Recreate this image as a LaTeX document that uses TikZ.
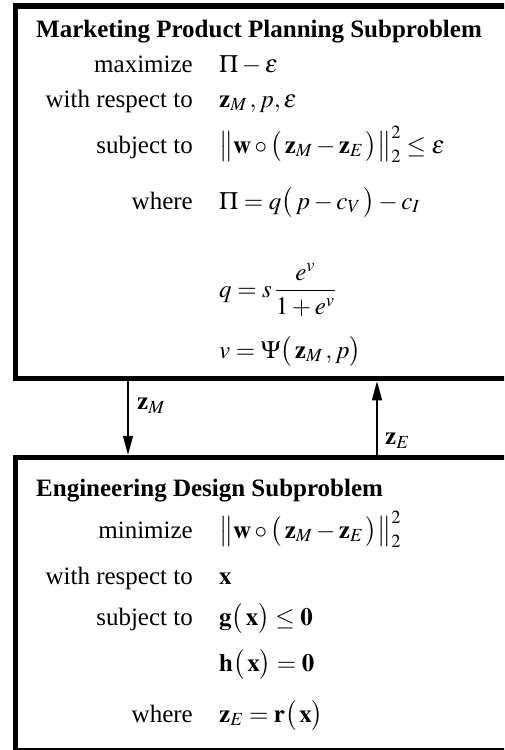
\documentclass[tikz,border=0pt]{standalone}
\usepackage{mathptmx}
\usepackage[no-math]{fontspec}
\setmainfont{Liberation Serif}
\usetikzlibrary{arrows.meta}
\tikzset{
  panel/.style={draw, line width=5.5pt, outer sep=0pt, inner sep=0pt, anchor=north west},
  lbl/.style={anchor=base east, inner sep=0pt, font=\fontsize{25}{30}\selectfont},
  mth/.style={anchor=base west, inner sep=0pt, font=\fontsize{25}{30}\selectfont},
  ttl/.style={anchor=base west, inner sep=0pt, font=\fontsize{25}{30}\selectfont\bfseries},
  flow/.style={line width=1.5pt, -{Triangle[length=19pt,width=10pt]}, shorten >=2.75pt, shorten <=2.75pt},
  flowlbl/.style={inner sep=0pt, font=\fontsize{25}{30}\selectfont}
}
\begin{document}
\begin{tikzpicture}[x=1pt,y=-1pt]
\useasboundingbox (0,0) rectangle (504,750);
\clip (0,0) rectangle (504,750);
% boxes
\node[panel, minimum width=510pt, minimum height=372.5pt] (top) at (15.5,6) {};
\node[panel, minimum width=510pt, minimum height=293.5pt] (bot) at (15.5,457.5) {};
% top box text
\node[ttl] (t1) at (36,37) {Marketing Product Planning Subproblem};
\node[lbl] (l1) at (193,72) {maximize};
\node[mth] (m1) at (219,72) {$\Pi-\varepsilon$};
\node[lbl] (l2) at (193,107) {with respect to};
\node[mth] (m2) at (219,107) {$\mathbf{z}_M\,, p, \varepsilon$};
\node[lbl] (l3) at (193,153) {subject to};
\node[mth] (m3) at (219,153) {$\left\|\mathbf{w}\circ\bigl(\,\mathbf{z}_M-\mathbf{z}_E\,\bigr)\right\|_2^2\le\varepsilon$};
\node[lbl] (l4) at (193,209) {where};
\node[mth] (m4) at (219,209) {$\Pi=q\bigl(\,p-c_V\,\bigr)-c_I$};
\node[mth] (m5) at (219,297) {$\displaystyle q=s\,\frac{e^v}{1+e^v}$};
\node[mth] (m6) at (219,358) {$v=\Psi\bigl(\,\mathbf{z}_M\,,p\bigr)$};
% bottom box text
\node[ttl] (t2) at (36,496) {Engineering Design Subproblem};
\node[lbl] (l5) at (193,538) {minimize};
\node[mth] (m7) at (219,538) {$\left\|\mathbf{w}\circ\bigl(\,\mathbf{z}_M-\mathbf{z}_E\,\bigr)\right\|_2^2$};
\node[lbl] (l6) at (193,584) {with respect to};
\node[mth] (m8) at (219,584) {$\mathbf{x}$};
\node[lbl] (l7) at (193,625) {subject to};
\node[mth] (m9) at (219,625) {$\mathbf{g}\bigl(\,\mathbf{x}\bigr)\le\mathbf{0}$};
\node[mth] (m10) at (219,671) {$\mathbf{h}\bigl(\,\mathbf{x}\bigr)=\mathbf{0}$};
\node[lbl] (l8) at (193,722) {where};
\node[mth] (m11) at (219,722) {$\mathbf{z}_E=\mathbf{r}\bigl(\,\mathbf{x}\bigr)$};
% connectors
\coordinate (ax1) at (128,0);
\coordinate (ax2) at (377,0);
\draw[flow] (top.south -| ax1) -- (bot.north -| ax1);
\draw[flow] (bot.north -| ax2) -- (top.south -| ax2);
\node[flowlbl, anchor=west] (zm) at (137,406) {$\mathbf{z}_M$};
\node[flowlbl, anchor=west] (ze) at (385,441) {$\mathbf{z}_E$};
\end{tikzpicture}
\end{document}
